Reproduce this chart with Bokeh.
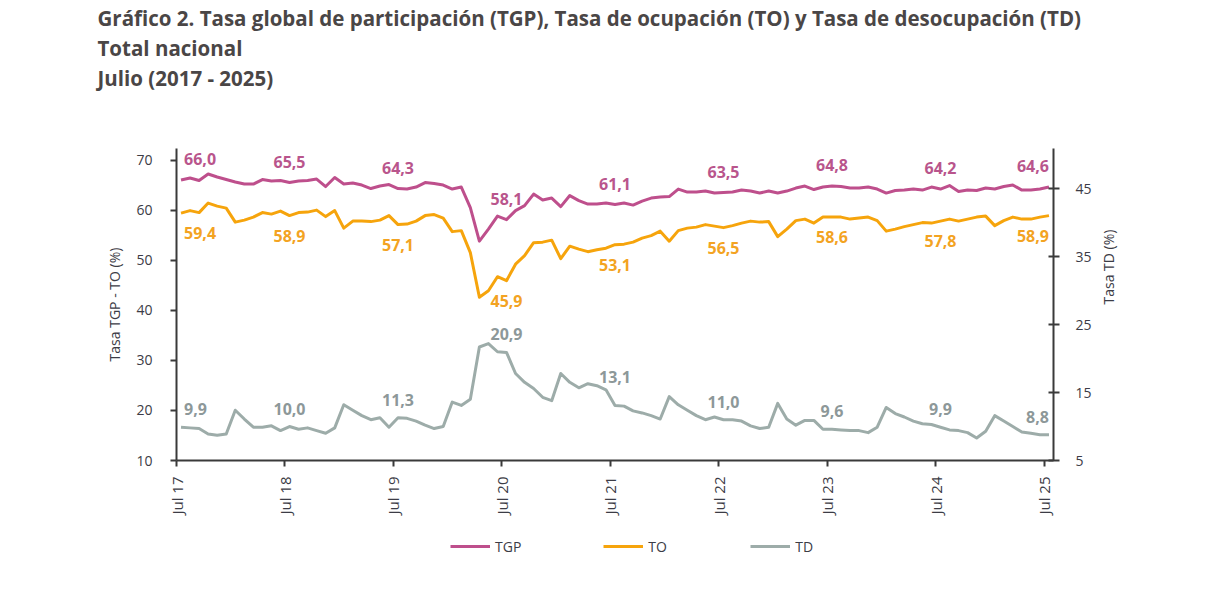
from bokeh.plotting import figure
from bokeh.layouts import column
from bokeh.models import Range1d, LinearAxis, FixedTicker, Legend, LegendItem, Title
from bokeh.embed import file_html
from bokeh.resources import INLINE
from bokeh.core.properties import value
from math import pi

# ---------------- data (monthly, Jul 2017 - Jul 2025) ----------------
tick_labels = ["Jul 17", "Jul 18", "Jul 19", "Jul 20", "Jul 21",
               "Jul 22", "Jul 23", "Jul 24", "Jul 25"]
series_names = ["TGP", "TO", "TD"]

tgp = [66.0, 66.4, 65.9, 67.2, 66.6, 66.1, 65.6, 65.2, 65.2, 66.1, 65.8, 65.9,
       65.5, 65.8, 65.9, 66.2, 64.7, 66.5, 65.2, 65.4, 65.0, 64.3, 64.8, 65.1,
       64.3, 64.2, 64.6, 65.5, 65.3, 65.0, 64.2, 64.6, 60.5, 53.8, 56.2, 58.8,
       58.1, 59.9, 60.9, 63.2, 62.0, 62.4, 60.7, 62.9, 61.9, 61.2, 61.2, 61.4,
       61.1, 61.4, 61.0, 61.8, 62.4, 62.6, 62.7, 64.2, 63.6, 63.6, 63.8, 63.4,
       63.5, 63.6, 64.0, 63.8, 63.4, 63.8, 63.4, 63.8, 64.4, 64.8, 64.1, 64.6,
       64.8, 64.7, 64.4, 64.4, 64.6, 64.2, 63.4, 63.9, 64.0, 64.2, 64.0, 64.6,
       64.2, 64.9, 63.7, 64.0, 63.9, 64.4, 64.2, 64.7, 65.0, 64.0, 64.0, 64.2,
       64.6]

to = [59.4, 59.9, 59.5, 61.4, 60.8, 60.4, 57.6, 58.0, 58.6, 59.5, 59.2, 59.8,
      58.9, 59.5, 59.6, 60.0, 58.7, 59.9, 56.4, 57.8, 57.8, 57.7, 58.0, 58.9,
      57.1, 57.2, 57.8, 58.9, 59.1, 58.4, 55.7, 55.9, 51.5, 42.6, 43.9, 46.7,
      45.9, 49.2, 50.9, 53.5, 53.6, 54.0, 50.3, 52.8, 52.2, 51.7, 52.1, 52.4,
      53.1, 53.2, 53.6, 54.4, 54.9, 55.8, 53.8, 55.9, 56.4, 56.6, 57.1, 56.8,
      56.5, 56.9, 57.4, 57.8, 57.6, 57.7, 54.7, 56.2, 57.9, 58.2, 57.4, 58.6,
      58.6, 58.6, 58.2, 58.4, 58.6, 57.9, 55.8, 56.2, 56.7, 57.1, 57.5, 57.4,
      57.8, 58.2, 57.8, 58.2, 58.6, 58.8, 56.9, 57.9, 58.6, 58.2, 58.2, 58.6,
      58.9]

td = [9.9, 9.8, 9.7, 8.9, 8.7, 8.9, 12.4, 11.1, 9.9, 9.9, 10.1, 9.4,
      10.0, 9.6, 9.8, 9.4, 9.0, 9.8, 13.2, 12.4, 11.6, 11.0, 11.3, 9.9,
      11.3, 11.2, 10.8, 10.2, 9.7, 10.0, 13.6, 13.1, 14.0, 21.7, 22.2, 21.0,
      20.9, 17.8, 16.5, 15.6, 14.3, 13.8, 17.8, 16.5, 15.7, 16.3, 16.0, 15.4,
      13.1, 13.0, 12.3, 12.0, 11.6, 11.1, 14.4, 13.2, 12.4, 11.6, 11.0, 11.4,
      11.0, 11.0, 10.8, 10.1, 9.7, 9.9, 13.4, 11.1, 10.2, 10.9, 10.9, 9.6,
      9.6, 9.5, 9.4, 9.4, 9.1, 9.9, 12.8, 11.9, 11.4, 10.8, 10.4, 10.3,
      9.9, 9.5, 9.4, 9.1, 8.3, 9.3, 11.6, 10.8, 10.0, 9.2, 9.0, 8.8,
      8.8]

# ---------------- styling ----------------
C_TGP = "#BE4F8C"
C_TO = "#F6A40C"
C_TD = "#9DACA9"
C_TGP_LBL = "#B9558C"
C_TO_LBL = "#F3A322"
C_TD_LBL = "#8D9899"
AX = "#3A3A3A"
TXT = "#3C3C46"
FONT = "Open Sans"

W = 1209
H_MAIN = 525
H_LEG = 601 - H_MAIN
FRAME_LEFT = 176

n = len(tgp)
x = [k + 0.5 for k in range(n)]          # points sit in the middle of each month
ticks = list(range(0, n, 12))             # July boundaries

p = figure(width=W, height=H_MAIN, x_range=Range1d(0, n), y_range=Range1d(10, 72.3),
           output_backend="svg", toolbar_location=None,
           min_border_left=FRAME_LEFT, min_border_right=156, min_border_top=148,
           min_border_bottom=H_MAIN - 460,
           background_fill_color="white", border_fill_color="white", outline_line_color=None)
p.xgrid.visible = False
p.ygrid.visible = False
p.extra_y_ranges = {"td": Range1d(5, 50.9)}

# titles: a spacer first (closest to the frame), then the three lines stacking upward
p.add_layout(Title(text=" ", text_font=FONT, text_font_size="40px", standoff=0), "above")
title_lines = ["Julio (2017 - 2025)", "Total nacional",
               "Gráfico 2. Tasa global de participación (TGP), Tasa de ocupación (TO) y Tasa de desocupación (TD)"]
for txt in title_lines:
    p.add_layout(Title(text=txt, text_font=FONT, text_font_size="20.5px", text_font_style="bold",
                       text_color="#4A4646", align="left", offset=-79, standoff=0), "above")

# x axis
xa = p.xaxis[0]
xa.ticker = FixedTicker(ticks=ticks)
xa.major_label_overrides = {t: lab for t, lab in zip(ticks, tick_labels)}
xa.major_label_orientation = pi / 2
xa.minor_tick_line_color = None
xa.major_tick_in = 0
xa.major_tick_out = 6
xa.major_label_standoff = 10

# left y axis
ya = p.yaxis[0]
ya.ticker = FixedTicker(ticks=[10, 20, 30, 40, 50, 60, 70])
ya.axis_label = "Tasa TGP - TO (%)"
ya.minor_tick_line_color = None
ya.major_tick_in = 0
ya.major_tick_out = 6
ya.major_label_standoff = 18
ya.axis_label_standoff = 9

# right y axis
ra = LinearAxis(y_range_name="td", ticker=FixedTicker(ticks=[5, 15, 25, 35, 45]),
                axis_label="Tasa TD (%)")
ra.minor_tick_line_color = None
ra.major_tick_in = 5
ra.major_tick_out = 6
ra.major_label_standoff = 16
ra.axis_label_standoff = 14
if "axis_label_orientation" in ra.properties():
    ra.axis_label_orientation = pi / 2
p.add_layout(ra, "right")

for ax in [xa, ya, ra]:
    ax.axis_line_color = AX
    ax.axis_line_width = 2
    ax.major_tick_line_color = AX
    ax.major_tick_line_width = 2
    ax.major_label_text_font = FONT
    ax.major_label_text_font_size = "14px"
    ax.major_label_text_color = TXT
    ax.axis_label_text_font = FONT
    ax.axis_label_text_font_size = "14px"
    ax.axis_label_text_font_style = "normal"
    ax.axis_label_text_color = TXT
xa.major_label_text_font_size = "15px"

# lines
p.line(x, tgp, line_color=C_TGP, line_width=3, line_join="round")
p.line(x, to, line_color=C_TO, line_width=3, line_join="round")
p.line(x, td, line_color=C_TD, line_width=3, line_join="round", y_range_name="td")

# July value labels
def fmt(v):
    return f"{v:.1f}".replace(".", ",")

def add_labels(vals, color, yoff, range_name="default", extra=None):
    extra = extra or {}
    for j, i in enumerate(ticks):
        align = "left" if j == 0 else ("right" if j == len(ticks) - 1 else "center")
        xo = 3 if j == 0 else 0
        p.text([x[i]], [vals[i]], text=[fmt(vals[i])],
               text_font=value(FONT), text_font_size="16px", text_font_style="bold",
               text_color=color, text_align=align, text_baseline="middle",
               x_offset=xo, y_offset=yoff + extra.get(j, 0), y_range_name=range_name)

add_labels(tgp, C_TGP_LBL, -21)
add_labels(to, C_TO_LBL, 20)
add_labels(td, C_TD_LBL, -18, "td", extra={4: -10})

# ---------------- legend strip below the chart ----------------
lf = figure(width=W, height=H_LEG, x_range=Range1d(0, 1), y_range=Range1d(0, 1),
            output_backend="svg", toolbar_location=None, x_axis_type=None, y_axis_type=None,
            min_border_left=0, min_border_right=0, min_border_top=0, min_border_bottom=0,
            background_fill_color="white", border_fill_color="white", outline_line_color=None)
lf.xgrid.visible = False
lf.ygrid.visible = False
items = []
for name, col in zip(series_names, [C_TGP, C_TO, C_TD]):
    # legend-only renderer: one point placed outside the visible range, so nothing is drawn
    r = lf.line([-1], [-1], line_color=col, line_width=3)
    items.append(LegendItem(label=name, renderers=[r]))
# the legend figure's frame is aligned with the chart frame by the column layout
legend = Legend(items=items, orientation="horizontal", location=(450 - FRAME_LEFT, H_LEG - 31),
                spacing=82, glyph_width=40, glyph_height=20, label_standoff=5, label_height=20,
                label_text_font=FONT, label_text_font_size="14px", label_text_color=TXT,
                border_line_color=None, background_fill_alpha=0, padding=0, margin=0)
lf.add_layout(legend, "center")

open("out.html", "w").write(file_html(column(p, lf, spacing=0), INLINE))
